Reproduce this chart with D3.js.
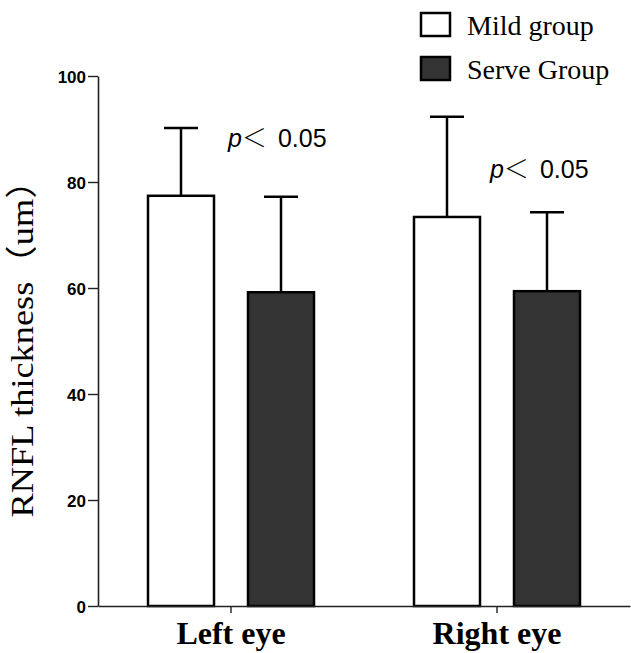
<!DOCTYPE html>
<html>
<head>
<meta charset="utf-8">
<script src="https://cdn.jsdelivr.net/npm/d3@7"></script>
<style>
  html, body { margin: 0; padding: 0; background: #fff; }
  svg { display: block; }
</style>
</head>
<body>
<svg id="chart" width="631" height="653"></svg>
<script>
// ---- data ----
const categories = ["Left eye", "Right eye"];
const groups = ["Mild group", "Serve Group"];
const mildMeans = [77.4, 73.4];
const mildSD = [12.8, 18.9];
const serveMeans = [59.2, 59.4];
const serveSD = [18.0, 14.9];
const yTicks = [0, 20, 40, 60, 80, 100];
const pLabels = ["p", "p"];
const pRest = ["\uFF1C 0.05", "\uFF1C 0.05"];
const yTitle = "RNFL thickness\uFF08um\uFF09";

const series = [
  { name: groups[0], means: mildMeans, sd: mildSD, fill: "#ffffff" },
  { name: groups[1], means: serveMeans, sd: serveSD, fill: "#333333" }
];

const svg = d3.select("#chart");
const mLeft = 98, mRight = 630, mTop = 76, mBottom = 606;

const x = d3.scaleBand().domain(categories).range([mLeft, mRight]).padding(0);
const y = d3.scaleLinear().domain([0, 100]).range([mBottom, mTop]);
const barW = 66, offset = 50;

// bars
series.forEach((s, si) => {
  const dx = si === 0 ? -offset : offset;
  const g = svg.append("g");
  categories.forEach((c, i) => {
    const cx = x(c) + x.bandwidth() / 2 + dx;
    g.append("line")
      .attr("x1", cx).attr("x2", cx)
      .attr("y1", y(s.means[i])).attr("y2", y(s.means[i] + s.sd[i]))
      .attr("stroke", "#000").attr("stroke-width", 2.5);
    g.append("line")
      .attr("x1", cx - 17).attr("x2", cx + 17)
      .attr("y1", y(s.means[i] + s.sd[i])).attr("y2", y(s.means[i] + s.sd[i]))
      .attr("stroke", "#000").attr("stroke-width", 2.5);
    g.append("rect")
      .attr("x", cx - barW / 2).attr("width", barW)
      .attr("y", y(s.means[i])).attr("height", y(0) - y(s.means[i]))
      .attr("fill", s.fill).attr("stroke", "#000").attr("stroke-width", 2.5);
  });
});

// y axis
const yAxis = svg.append("g")
  .attr("transform", `translate(${mLeft},0)`)
  .call(d3.axisLeft(y).tickValues(yTicks).tickSize(10).tickPadding(2).tickSizeOuter(0));
yAxis.selectAll("text")
  .attr("font-family", "'Liberation Sans', Arial, sans-serif")
  .attr("font-weight", "bold").attr("font-size", 17).attr("fill", "#000")
  .attr("dy", "0.36em");
yAxis.select(".domain").attr("stroke", "#222").attr("stroke-width", 1.6);
yAxis.selectAll(".tick line").attr("stroke", "#222").attr("stroke-width", 1.4);

// x axis
const xAxis = svg.append("g")
  .attr("transform", `translate(0,${mBottom})`)
  .call(d3.axisBottom(x).tickSize(7).tickPadding(8).tickSizeOuter(0));
xAxis.select(".domain").attr("stroke", "#222").attr("stroke-width", 1.6);
xAxis.selectAll(".tick line").attr("stroke", "#222").attr("stroke-width", 1.4);
xAxis.selectAll("text")
  .attr("font-family", "'Liberation Serif', 'Times New Roman', serif")
  .attr("font-weight", "bold").attr("font-size", 32).attr("fill", "#000");

// y title
svg.append("text")
  .attr("transform", `translate(33,${(165 + 515) / 2}) rotate(-90)`)
  .attr("text-anchor", "middle")
  .attr("font-family", "'Liberation Serif', 'Times New Roman', 'Noto Sans CJK SC', serif")
  .attr("font-size", 32)
  .attr("textLength", 355).attr("lengthAdjust", "spacingAndGlyphs")
  .attr("fill", "#000")
  .text(yTitle);

// p annotations
const pPos = [{ dx: -3, v: 86.6 }, { dx: -7, v: 80.8 }];
categories.forEach((c, i) => {
  const t = svg.append("text")
    .attr("x", x(c) + x.bandwidth() / 2 + pPos[i].dx)
    .attr("y", y(pPos[i].v))
    .attr("font-family", "'Liberation Sans', Arial, 'Noto Sans CJK SC', sans-serif")
    .attr("font-size", 25).attr("fill", "#000");
  t.append("tspan").attr("font-style", "italic").text(pLabels[i]);
  t.append("tspan").attr("font-family", "'Noto Sans CJK SC', sans-serif").attr("font-weight", 300).text(pRest[i].slice(0, 1));
  t.append("tspan").attr("dx", 11).text(pRest[i].slice(2));
});

// legend
const legend = svg.append("g");
series.forEach((s, i) => {
  const ly = 13 + i * 44;
  legend.append("rect")
    .attr("x", 421).attr("y", ly).attr("width", 29).attr("height", 23)
    .attr("fill", s.fill).attr("stroke", "#000").attr("stroke-width", 2.5);
  legend.append("text")
    .attr("x", 467).attr("y", ly + 22)
    .attr("font-family", "'Liberation Serif', 'Times New Roman', serif")
    .attr("font-size", 28).attr("fill", "#000")
    .text(s.name);
});
</script>
</body>
</html>
